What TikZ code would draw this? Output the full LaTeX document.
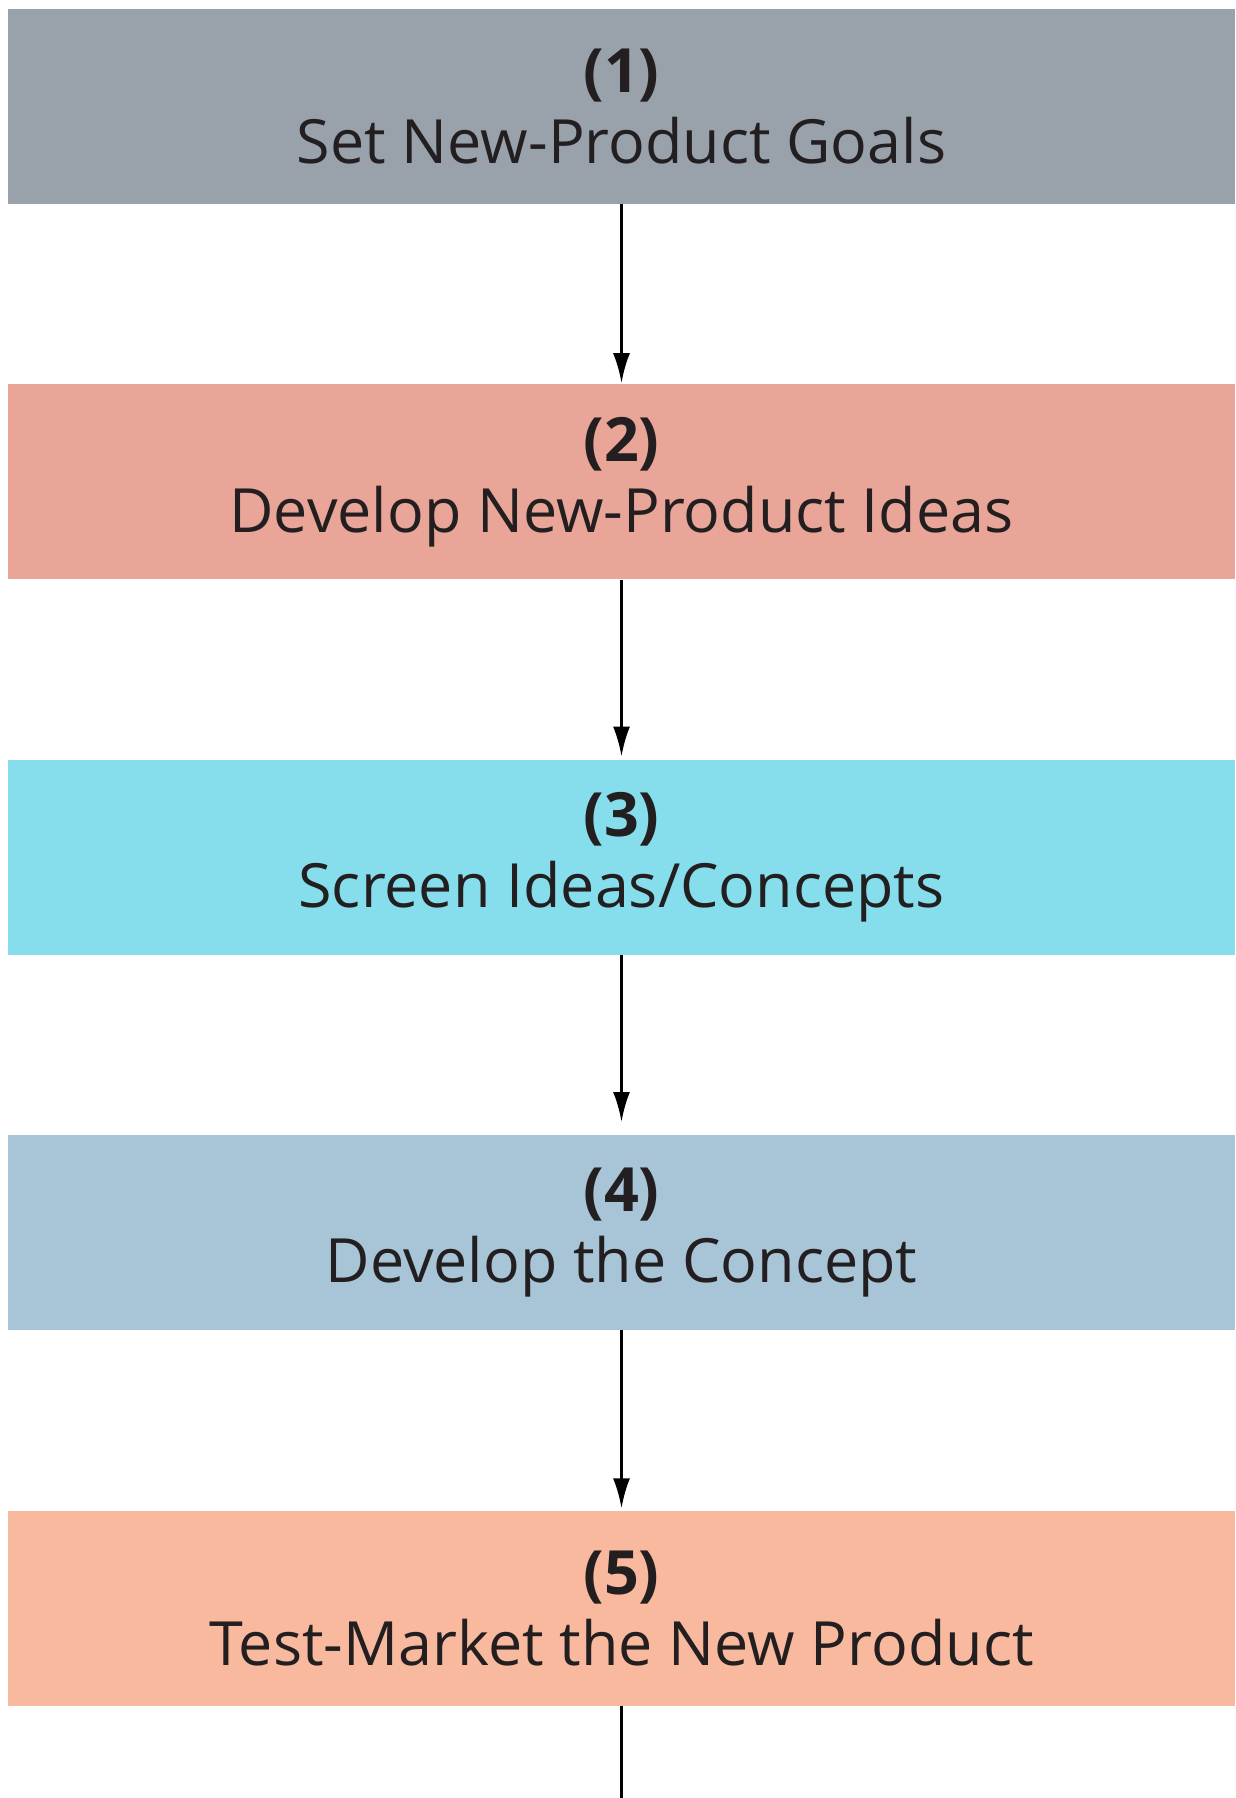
\documentclass[tikz,border=0pt]{standalone}
\usepackage{fontspec}
\setmainfont{Open Sans}
\usepackage{tikz}
\usetikzlibrary{arrows.meta, positioning}

\definecolor{goalgray}{HTML}{99A1AB}
\definecolor{ideared}{HTML}{E8A598}
\definecolor{screencyan}{HTML}{86DEEC}
\definecolor{conceptblue}{HTML}{A8C5D7}
\definecolor{testpeach}{HTML}{F8B99F}
\definecolor{labeltext}{HTML}{231F20}

\tikzset{
  stepbox/.style={draw=none, minimum width=1227pt, minimum height=195pt,
                  inner sep=0pt, align=center, text=labeltext,
                  font=\fontsize{61}{71}\selectfont},
  flowarrow/.style={line width=3pt, -{Latex[length=30pt, width=17pt]}}
}

\begin{document}
\begin{tikzpicture}[x=1pt, y=-1pt]
  \useasboundingbox (0,0) rectangle (1235,1798);

  \node[stepbox, fill=goalgray]    (goals)   at (621.5,106.5) {\textbf{(1)}\\Set New-Product Goals};
  \node[stepbox, fill=ideared,     below=180pt of goals]   (ideas)   {\textbf{(2)}\\Develop New-Product Ideas};
  \node[stepbox, fill=screencyan,  below=180pt of ideas]   (screen)  {\textbf{(3)}\\Screen Ideas/Concepts};
  \node[stepbox, fill=conceptblue, below=180pt of screen]  (concept) {\textbf{(4)}\\Develop the Concept};
  \node[stepbox, fill=testpeach,   below=180pt of concept] (testmkt) {\textbf{(5)}\\Test-Market the New Product};
  \coordinate (next) at (621.5,1798);

  \draw[flowarrow, shorten >=1pt] (goals.south) -- (ideas.north);
  \draw[flowarrow, shorten >=3pt] (ideas.south) -- (screen.north);
  \draw[flowarrow, shorten >=13pt] (screen.south) -- (concept.north);
  \draw[flowarrow, shorten >=2pt] (concept.south) -- (testmkt.north);
  \draw[line width=3pt] (testmkt.south) -- (next);
\end{tikzpicture}
\end{document}
